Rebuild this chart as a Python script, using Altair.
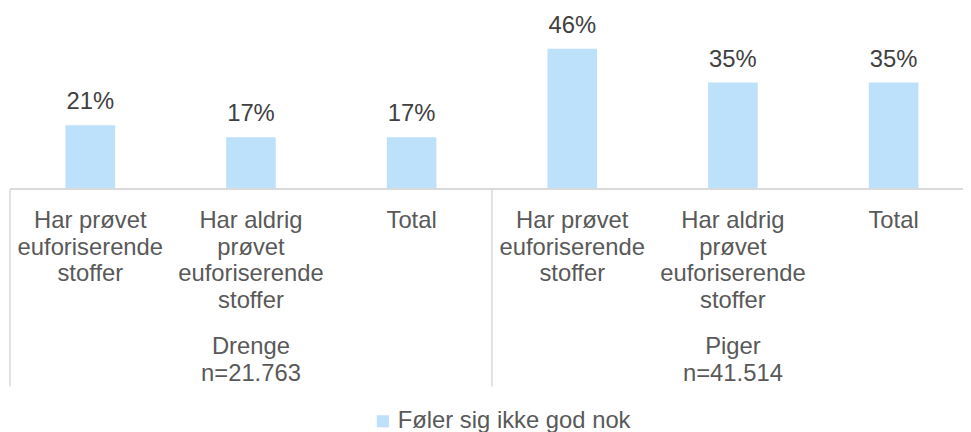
import altair as alt
import pandas as pd

# ---- data ----
keys = ["D1", "D2", "D3", "P1", "P2", "P3"]
groups = ["Drenge", "Drenge", "Drenge", "Piger", "Piger", "Piger"]
categories = [
    "Har prøvet\neuforiserende\nstoffer",
    "Har aldrig\nprøvet\neuforiserende\nstoffer",
    "Total",
    "Har prøvet\neuforiserende\nstoffer",
    "Har aldrig\nprøvet\neuforiserende\nstoffer",
    "Total",
]
values = [21, 17, 17, 46, 35, 35]
group_keys = ["D2", "P2"]
group_labels = ["Drenge\nn=21.763", "Piger\nn=41.514"]
separator_keys = ["D1", "P1"]
series_name = "Føler sig ikke god nok"

BAR = "#BDE0FB"
TXT = "#595959"
LINE = "#D9D9D9"
FONT = "Liberation Sans"
FS = 24

df = pd.DataFrame({"key": keys, "group": groups, "cat": categories,
                   "value": values, "series": [series_name] * len(keys)})
gdf = pd.DataFrame({"key": group_keys, "label": group_labels})
sdf = pd.DataFrame({"key": separator_keys})

xscale = alt.Scale(domain=keys, range=[0, 972], paddingInner=0, paddingOuter=0)
yscale = alt.Scale(domain=[0, 58.8])

X = alt.X("key:N", scale=xscale, axis=None)

bars = alt.Chart(df).mark_bar(width=50).encode(
    x=X,
    y=alt.Y("value:Q", scale=yscale, axis=None),
    color=alt.Color("series:N",
                    scale=alt.Scale(domain=[series_name], range=[BAR]),
                    legend=alt.Legend(title=None, orient="none", legendX=364, legendY=403,
                                      symbolType="square", symbolSize=150,
                                      symbolStrokeWidth=0, labelFontSize=FS,
                                      labelFont=FONT, labelColor=TXT, labelOffset=3,
                                      labelLimit=0, padding=0)),
)

vals = alt.Chart(df).transform_calculate(pct="datum.value + '%'").mark_text(
    baseline="alphabetic", dy=-16, fontSize=FS, font=FONT, color="#404040"
).encode(x=X, y=alt.Y("value:Q", scale=yscale, axis=None), text="pct:N")

cats = alt.Chart(df).mark_text(
    baseline="alphabetic", lineBreak="\n", lineHeight=27, fontSize=FS, font=FONT, color=TXT
).encode(x=X, y=alt.value(220), text="cat:N")

glabels = alt.Chart(gdf).mark_text(
    baseline="alphabetic", lineBreak="\n", lineHeight=27, fontSize=FS, font=FONT, color=TXT
).encode(x=X, y=alt.value(347), text="label:N")

axis_line = alt.Chart(df).mark_rule(color=LINE, strokeWidth=1.5).encode(
    x=alt.value(0), x2=alt.value(972), y=alt.value(181)
)

seps = alt.Chart(sdf).mark_rule(color=LINE, strokeWidth=1.5).encode(
    x=alt.X("key:N", scale=xscale, axis=None, bandPosition=0),
    y=alt.value(181), y2=alt.value(380)
)

chart = alt.layer(bars, axis_line, seps, vals, cats, glabels).properties(
    width=961, height=181,
    autosize=alt.AutoSizeParams(type="none"),
    padding={"left": 2, "top": 0, "right": 0, "bottom": 243},
).configure_view(stroke=None)

chart.save("out.html", embed_options={"renderer": "svg", "actions": False})
